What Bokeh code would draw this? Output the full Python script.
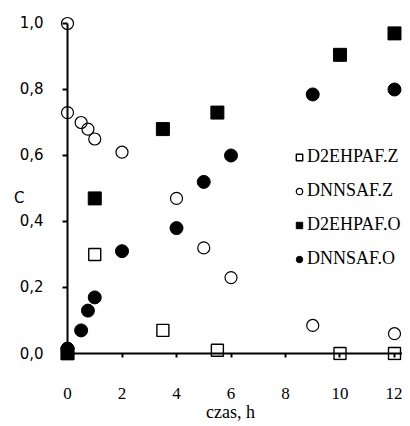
from bokeh.plotting import figure
from bokeh.models import (Range1d, FixedTicker, CustomJSTickFormatter, Legend,
                          LegendItem, LinearAxis)
from bokeh.embed import file_html
from bokeh.resources import INLINE

# ---- data ----
t_d2eh_z = [0, 1, 3.5, 5.5, 10, 12]
c_d2eh_z = [0.0, 0.30, 0.07, 0.01, 0.0, 0.0]

t_dnns_z = [0, 0, 0.5, 0.75, 1, 2, 4, 5, 6, 9, 12]
c_dnns_z = [1.0, 0.73, 0.70, 0.68, 0.65, 0.61, 0.47, 0.32, 0.23, 0.085, 0.06]

t_d2eh_o = [0, 1, 3.5, 5.5, 10, 12]
c_d2eh_o = [0.0, 0.47, 0.68, 0.73, 0.905, 0.97]

t_dnns_o = [0, 0.5, 0.75, 1, 2, 4, 5, 6, 9, 12]
c_dnns_o = [0.015, 0.07, 0.13, 0.17, 0.31, 0.38, 0.52, 0.60, 0.785, 0.80]

x_ticks = [0, 2, 4, 6, 8, 10, 12]
y_ticks = [0.0, 0.2, 0.4, 0.6, 0.8, 1.0]
x_title = "czas, h"
y_title = "C"
y_title_at = 0.47   # height at which the "C" title sits, beside the tick labels

SERIF = "Liberation Serif"
SANS = "DejaVu Sans"

p = figure(frame_width=344, frame_height=348,
           x_range=Range1d(-0.3303, 12.2936), y_range=Range1d(-0.02121, 1.0333),
           output_backend="svg", toolbar_location=None,
           min_border_left=58, min_border_right=0,
           min_border_top=12, min_border_bottom=58)

p.grid.visible = False
p.outline_line_color = None
p.background_fill_color = "white"
p.border_fill_color = "white"

# axis lines + ticks, fixed at data zero (their own labels are not drawn)
p.xaxis.fixed_location = 0
p.yaxis.fixed_location = 0
p.xaxis.bounds = (0, 12.29)
p.yaxis.bounds = (0, 1.0)
p.xaxis.ticker = FixedTicker(ticks=x_ticks)
p.yaxis.ticker = FixedTicker(ticks=y_ticks)
for ax in (p.xaxis[0], p.yaxis[0]):
    ax.axis_line_color = "black"
    ax.axis_line_width = 2
    ax.major_tick_line_color = "black"
    ax.major_tick_line_width = 2
    ax.major_tick_in = 0
    ax.minor_tick_line_color = None
    ax.major_label_text_color = None
    ax.major_label_text_font_size = "1px"
    ax.major_label_standoff = 0
p.xaxis.major_tick_out = 4
p.yaxis.major_tick_out = 5

# label-only axes in the side panels
xlab = LinearAxis(ticker=FixedTicker(ticks=x_ticks), axis_line_color=None,
                  major_tick_line_color=None, minor_tick_line_color=None,
                  major_tick_out=0, major_tick_in=0, major_label_standoff=27,
                  major_label_text_font=SERIF, major_label_text_font_size="17px",
                  major_label_text_color="black",
                  axis_label=x_title, axis_label_standoff=0,
                  axis_label_text_font=SERIF, axis_label_text_font_size="18px",
                  axis_label_text_font_style="normal",
                  axis_label_text_color="black")
yfmt = CustomJSTickFormatter(
    args=dict(title=y_title, at=y_title_at),
    code="""
    if (Math.abs(tick - at) < 1e-9) { return title + '\\u00a0\\u00a0\\u00a0\\u00a0'; }
    return tick.toFixed(1).replace('.', ',');
    """)
ylab = LinearAxis(ticker=FixedTicker(ticks=y_ticks + [y_title_at]), formatter=yfmt,
                  axis_line_color=None,
                  major_tick_line_color=None, minor_tick_line_color=None,
                  major_tick_out=0, major_tick_in=0, major_label_standoff=15,
                  major_label_text_font=SANS, major_label_text_font_size="15px",
                  major_label_text_color="black")
p.add_layout(xlab, "below")
p.add_layout(ylab, "left")

r1 = p.scatter(t_d2eh_z, c_d2eh_z, marker="square", size=12, fill_color=None,
               line_color="black", line_width=1.4)
r2 = p.scatter(t_dnns_z, c_dnns_z, marker="circle", size=12, fill_color=None,
               line_color="black", line_width=1.2)
r3 = p.scatter(t_d2eh_o, c_d2eh_o, marker="square", size=13, fill_color="black",
               line_color="black")
r4 = p.scatter(t_dnns_o, c_dnns_o, marker="circle", size=13, fill_color="black",
               line_color="black")

legend = Legend(items=[LegendItem(label="D2EHPAF.Z", renderers=[r1]),
                       LegendItem(label="DNNSAF.Z", renderers=[r2]),
                       LegendItem(label="D2EHPAF.O", renderers=[r3]),
                       LegendItem(label="DNNSAF.O", renderers=[r4])],
                location=(233, 91), orientation="vertical",
                glyph_width=16, glyph_height=18, label_height=18,
                label_standoff=0, spacing=13, padding=0, margin=0,
                border_line_color=None, background_fill_color=None,
                label_text_font=SERIF, label_text_font_size="18px",
                label_text_color="black")
p.add_layout(legend)

open("out.html", "w").write(file_html(p, INLINE))
